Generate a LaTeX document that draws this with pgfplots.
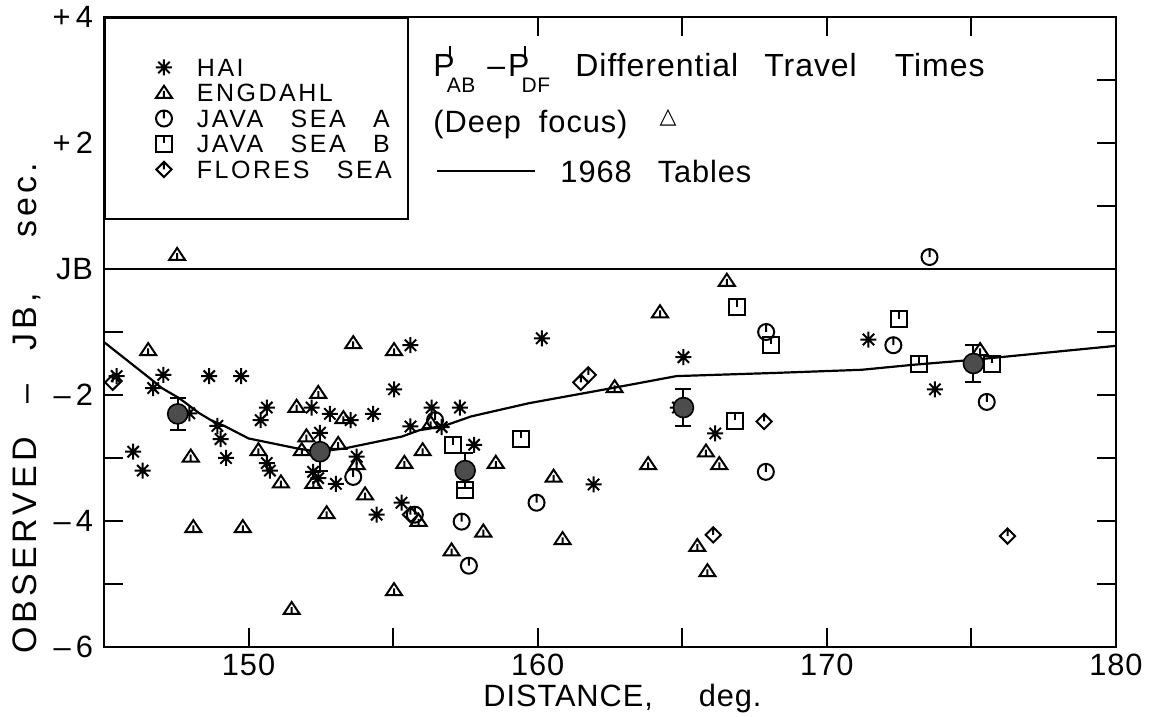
\documentclass[border=0pt]{standalone}
\usepackage{pgfplots}
\pgfplotsset{compat=1.18}
\usepackage{fontspec}
\setmainfont{Liberation Sans}[LetterSpace=3, WordSpace=2.8]
\newfontfamily\legfont{Liberation Sans}[LetterSpace=10, WordSpace=2.9]
\newfontfamily\ylabfont{Liberation Sans}[LetterSpace=12, WordSpace=2.5]
\newfontfamily\symfont{DejaVu Sans}
\newcommand\bigsz{\fontsize{15.4pt}{18pt}\selectfont}
\newcommand\titsz{\fontsize{16pt}{18pt}\selectfont}
\newcommand\legsz{\legfont\fontsize{12.5pt}{14pt}\selectfont}
\newcommand\subsz{\fontsize{10.5pt}{11pt}\selectfont}
\newcommand\Pp[1]{P\kern-3pt\rlap{\raisebox{10pt}{\rule{1.1pt}{5.5pt}}}\kern-1pt\raisebox{-8pt}{\subsz #1}}

\pgfdeclareplotmark{hai}{%
  \pgfpathmoveto{\pgfqpoint{-\pgfplotmarksize}{0pt}}\pgfpathlineto{\pgfqpoint{\pgfplotmarksize}{0pt}}%
  \pgfpathmoveto{\pgfqpoint{0pt}{-\pgfplotmarksize}}\pgfpathlineto{\pgfqpoint{0pt}{\pgfplotmarksize}}%
  \pgfpathmoveto{\pgfpointpolar{45}{\pgfplotmarksize}}\pgfpathlineto{\pgfpointpolar{225}{\pgfplotmarksize}}%
  \pgfpathmoveto{\pgfpointpolar{135}{\pgfplotmarksize}}\pgfpathlineto{\pgfpointpolar{315}{\pgfplotmarksize}}%
  \pgfusepathqstroke
  \pgfpathcircle{\pgfpointorigin}{0.3\pgfplotmarksize}\pgfusepathqfill}
\pgfdeclareplotmark{eng}{%
  \pgfpathmoveto{\pgfqpoint{0pt}{0.9\pgfplotmarksize}}%
  \pgfpathlineto{\pgfqpoint{\pgfplotmarksize}{-0.6\pgfplotmarksize}}%
  \pgfpathlineto{\pgfqpoint{-\pgfplotmarksize}{-0.6\pgfplotmarksize}}%
  \pgfpathclose
  \pgfpathmoveto{\pgfqpoint{0pt}{0.25\pgfplotmarksize}}\pgfpathlineto{\pgfqpoint{0pt}{-0.6\pgfplotmarksize}}%
  \pgfusepathqstroke}
\pgfdeclareplotmark{jsa}{%
  \pgfpathcircle{\pgfpointorigin}{\pgfplotmarksize}%
  \pgfpathmoveto{\pgfqpoint{0pt}{\pgfplotmarksize}}\pgfpathlineto{\pgfqpoint{0pt}{0pt}}%
  \pgfusepathqstroke}
\pgfdeclareplotmark{jsb}{%
  \pgfpathrectangle{\pgfqpoint{-\pgfplotmarksize}{-\pgfplotmarksize}}{\pgfqpoint{2\pgfplotmarksize}{2\pgfplotmarksize}}%
  \pgfpathmoveto{\pgfqpoint{0pt}{\pgfplotmarksize}}\pgfpathlineto{\pgfqpoint{0pt}{0.1\pgfplotmarksize}}%
  \pgfusepathqstroke}
\pgfdeclareplotmark{flo}{%
  \pgfpathmoveto{\pgfqpoint{0pt}{\pgfplotmarksize}}%
  \pgfpathlineto{\pgfqpoint{\pgfplotmarksize}{0pt}}%
  \pgfpathlineto{\pgfqpoint{0pt}{-\pgfplotmarksize}}%
  \pgfpathlineto{\pgfqpoint{-\pgfplotmarksize}{0pt}}%
  \pgfpathclose
  \pgfpathmoveto{\pgfqpoint{0pt}{\pgfplotmarksize}}\pgfpathlineto{\pgfqpoint{0pt}{0pt}}%
  \pgfusepathqstroke}

\begin{document}
\begin{tikzpicture}
\begin{axis}[
  at={(0,0)}, anchor=south west,
  scale only axis, width=506pt, height=315pt,
  xmin=145, xmax=180, ymin=-6, ymax=4,
  xtick={150,155,...,180}, xticklabels={150,,160,,170,,180},
  ytick={-6,-5,...,4},
  yticklabels={\textendash\,6,,\textendash\,4,,\textendash\,2,,JB,,+\,2,,+\,4},
  tick align=inside, major tick length=9.5pt,
  axis line style={line width=1pt},
  every tick/.style={line width=1pt, black},
  tick label style={font=\bigsz},
  yticklabel style={xshift=-2pt},
  clip=false,
  legend style={at={(0,1)}, anchor=north west, draw=black, line width=1pt, fill=white,
    inner xsep=8pt, inner ysep=20.25pt, row sep=3.75pt, font=\legsz,
    cells={anchor=west},
    nodes={inner sep=0pt, text height=9pt, text depth=0pt}},
  legend image code/.code={%
    \path[draw=none] (-13pt,0pt) rectangle (25pt,0pt);
    \draw[#1] plot coordinates {(8.5pt,0pt)};},
]
\addplot[forget plot, line width=0.9pt] coordinates {(145,0) (180,0)};
\addplot[forget plot, line width=1.1pt] coordinates {
(145.0,-1.16) (146.6,-1.74) (147.0,-1.89) (147.6,-2.05) (148.3,-2.29) (148.7,-2.40)
(149.2,-2.50) (150.0,-2.69) (151.7,-2.85) (152.4,-2.90) (153.3,-2.85) (155.3,-2.66)
(155.9,-2.56) (156.7,-2.50) (157.7,-2.34) (159.7,-2.13) (162.7,-1.88) (164.8,-1.70)
(168.2,-1.65) (171.2,-1.60) (173.0,-1.52) (175.1,-1.44) (180.0,-1.22)};

\addplot[only marks, mark=hai, mark size=4pt, mark options={line width=1pt}] table {
x y
145.44 -1.70
147.05 -1.68
146.70 -1.89
148.64 -1.70
149.74 -1.70
147.95 -2.29
148.92 -2.49
149.03 -2.70
150.63 -2.20
150.42 -2.40
146.01 -2.90
146.34 -3.20
149.22 -3.00
150.63 -3.08
150.74 -3.20
152.18 -2.20
152.23 -3.22
152.41 -3.32
152.81 -2.30
153.53 -2.40
154.31 -2.30
152.47 -2.60
153.74 -2.98
153.02 -3.41
154.43 -3.90
155.29 -3.71
155.60 -1.21
155.03 -1.91
155.60 -2.50
156.33 -2.20
156.68 -2.51
157.31 -2.20
157.80 -2.79
160.14 -1.10
161.93 -3.42
165.04 -1.40
164.85 -2.20
166.14 -2.61
171.44 -1.12
173.74 -1.91
};
\addlegendentry{HAI}

\addplot[only marks, mark=eng, mark size=4pt, mark options={line width=1pt}] table {
x y
147.53 0.22
146.53 -1.29
151.66 -2.19
152.41 -1.97
152.00 -2.66
151.84 -2.88
148.00 -2.98
150.34 -2.88
151.12 -3.39
152.24 -3.40
148.09 -4.10
149.80 -4.10
153.62 -1.18
155.03 -1.29
153.28 -2.37
153.10 -2.78
153.74 -3.10
154.03 -3.58
152.70 -3.88
155.39 -3.08
156.02 -2.88
155.88 -4.00
156.30 -2.45
158.55 -3.08
158.12 -4.17
157.02 -4.47
151.49 -5.40
155.03 -5.10
160.55 -3.30
160.86 -4.29
163.82 -3.10
166.28 -3.10
165.82 -2.90
165.52 -4.40
165.87 -4.80
166.54 -0.19
164.23 -0.69
162.66 -1.88
175.30 -1.29
};
\addlegendentry{ENGDAHL}

\addplot[only marks, mark=jsa, mark size=4pt, mark options={line width=1pt}] table {
x y
153.62 -3.30
155.75 -3.90
156.45 -2.40
157.37 -4.01
157.62 -4.71
159.96 -3.71
167.89 -3.22
167.90 -1.00
172.30 -1.21
173.55 0.19
175.53 -2.11
};
\addlegendentry{JAVA SEA A}

\addplot[only marks, mark=jsb, mark size=4pt, mark options={line width=1pt}] table {
x y
157.08 -2.80
157.49 -3.51
159.42 -2.70
166.90 -0.61
168.06 -1.21
166.83 -2.41
172.51 -0.80
173.17 -1.51
175.70 -1.51
};
\addlegendentry{JAVA SEA B}

\addplot[only marks, mark=flo, mark size=3.8pt, mark options={line width=1pt}] table {
x y
145.30 -1.80
155.60 -3.90
161.49 -1.80
161.75 -1.68
166.07 -4.22
167.83 -2.42
176.25 -4.24
};
\addlegendentry{FLORES SEA}

\addplot[forget plot, only marks, mark=*, mark size=5pt,
  mark options={fill=black!70, draw=black, line width=0.8pt},
  error bars/.cd, y dir=both, y explicit,
  error bar style={line width=1pt, black},
  error mark options={rotate=90, mark size=4pt, line width=1pt, black}]
  table[y error=e] {
x y e
147.55 -2.30 0.25
152.47 -2.90 0.30
157.49 -3.20 0.28
165.04 -2.20 0.30
175.07 -1.50 0.30
};

\node[anchor=base west, font=\titsz, inner sep=0pt] at (axis cs:156.38,3.05)
  {\Pp{AB}\hspace{6pt}\textendash\hspace{1.5pt}\Pp{DF}};
\node[anchor=base west, font=\titsz, inner sep=0pt] at (axis cs:161.29,3.05)
  {Differential\hspace{13pt}Travel\hspace{19pt}Times};
\node[anchor=base west, font=\bigsz, inner sep=0pt] at (axis cs:156.38,2.16) {(Deep\hspace{9pt}focus)};
\node[font=\symfont\fontsize{11pt}{12pt}\selectfont, inner sep=0pt] at (axis cs:164.51,2.40) {△};
\node[anchor=base west, font=\bigsz, inner sep=0pt] at (axis cs:156.52,1.37)
  {\rule[5.5pt]{49pt}{0.9pt}\hspace{12.5pt}1968\hspace{13pt}Tables};
\node[anchor=base west, font=\bigsz, inner sep=0pt] at (axis cs:158.11,-6.95) {DISTANCE,\hspace{23pt}deg.};
\node[rotate=90, anchor=base, inner sep=0pt, font=\ylabfont\fontsize{17pt}{20pt}\selectfont]
  at (axis cs:142.65,-2.21) {OBSERVED \textendash\ JB,\hspace{28pt}sec.};
\end{axis}
\pgfresetboundingbox
\path (-52pt,-35pt) rectangle (524.5pt,323.5pt);
\end{tikzpicture}
\end{document}
